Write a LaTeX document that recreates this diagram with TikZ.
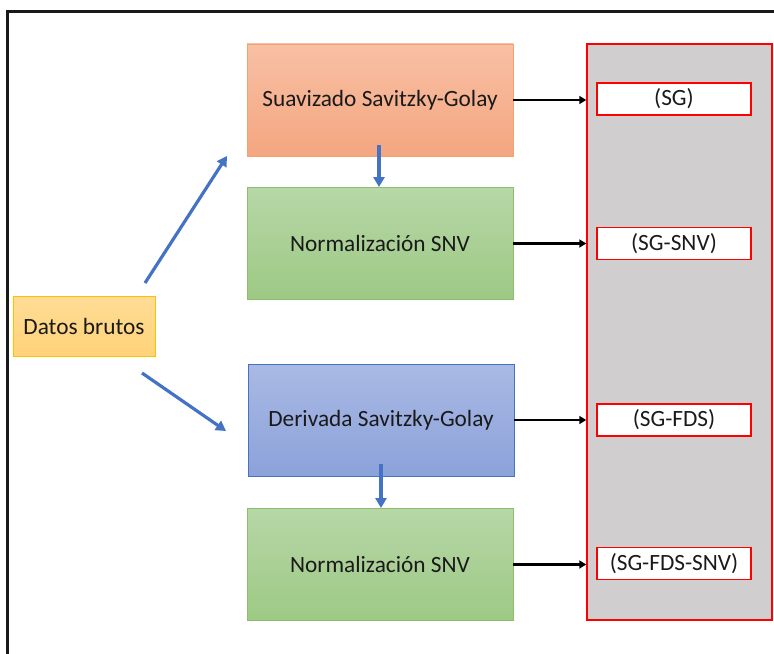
\documentclass[tikz,border=0pt]{standalone}
\usepackage{fontspec}
\setmainfont{Carlito}
\usetikzlibrary{arrows.meta,calc}
\definecolor{txt}{HTML}{1A1A1A}
\definecolor{blu}{HTML}{4472C4}
\definecolor{orline}{HTML}{F4A070}
\definecolor{ortop}{HTML}{F8C0A4}
\definecolor{orbot}{HTML}{F4A680}
\definecolor{grline}{HTML}{8DBE6E}
\definecolor{grtop}{HTML}{B7D7A7}
\definecolor{grbot}{HTML}{9DC984}
\definecolor{bltop}{HTML}{AAB9E4}
\definecolor{blbot}{HTML}{8BA2DA}
\definecolor{yeline}{HTML}{FFC000}
\definecolor{yetop}{HTML}{FFDC96}
\definecolor{yebot}{HTML}{FFD378}
\definecolor{panelgrey}{HTML}{D0CECE}
\tikzset{
  lbl/.style={font=\fontsize{23.4}{27}\selectfont, text=txt},
  stage/.style={draw, line width=0.9pt, minimum width=266bp, minimum height=112bp,
    inner sep=0pt, lbl},
  orangebox/.style={stage, draw=orline, top color=ortop, bottom color=orbot},
  greenbox/.style={stage, draw=grline, top color=grtop, bottom color=grbot},
  bluebox/.style={stage, draw=blu, top color=bltop, bottom color=blbot},
  tag/.style={draw=red, line width=1.5pt, fill=white, minimum width=154bp, minimum height=32bp,
    inner sep=0pt, lbl},
  bluearrow/.style={draw=blu, line width=3.2pt, -{Triangle[length=10bp,width=11bp]}},
  blackarrow/.style={draw=black, line width=2.6pt, -{Triangle[length=7bp,width=8bp]}},
}
\begin{document}
\begin{tikzpicture}[x=1bp,y=-1bp]
\useasboundingbox (0,0) rectangle (774,654);
% outer frame (only top and left edges visible)
\draw[line width=3pt, black!90] (7.5,660) -- (7.5,11.5) -- (780,11.5);

% grey results panel
\node[draw=red, line width=1.5pt, fill=panelgrey,
  minimum width=185bp, minimum height=576bp, inner sep=0pt] (panel) at (679.5,332) {};

% raw data
\node[draw=yeline, line width=0.9pt, top color=yetop, bottom color=yebot,
  minimum width=142bp, minimum height=60bp, inner sep=0pt, lbl] (raw) at (84,326) {Datos brutos};

% processing stages
\node[orangebox] (sg)   at (380,100)  {Suavizado Savitzky-Golay};
\node[greenbox]  (snv1) at (380,243.5)   {Normalización SNV};
\node[bluebox]   (fds)  at (381,420) {Derivada Savitzky-Golay};
\node[greenbox]  (snv2) at (380,564.5)   {Normalización SNV};

% result labels
\node[tag] (tsg)   at (674,99)  {(SG)};
\node[tag] (tsnv)  at (674,243.5) {(SG-SNV)};
\node[tag] (tfds)  at (674,420) {(SG-FDS)};
\node[tag] (tfdsn) at (674,563.5) {(SG-FDS-SNV)};

% branch arrows from the raw data
\coordinate (up0) at (145,283);
\coordinate (up1) at (227,156);
\coordinate (dn0) at (142,373);
\coordinate (dn1) at (226,431);
\draw[bluearrow] (up0) -- (up1);
\draw[bluearrow] (dn0) -- (dn1);

% vertical chaining arrows
\coordinate (sgx) at ($(sg.south)+(-1,0)$);
\draw[bluearrow] ($(sgx)+(0,-11)$) -- (snv1.north -| sgx);
\draw[bluearrow] ($(fds.south)+(0,-12)$) -- (snv2.north -| fds.south);

% outputs into the panel
\draw[blackarrow] (sg.east)   -- (sg.east -| panel.west);
\draw[blackarrow] (snv1.east) -- (snv1.east -| panel.west);
\draw[blackarrow] (fds.east)  -- (fds.east -| panel.west);
\draw[blackarrow] (snv2.east) -- (snv2.east -| panel.west);
\end{tikzpicture}
\end{document}
